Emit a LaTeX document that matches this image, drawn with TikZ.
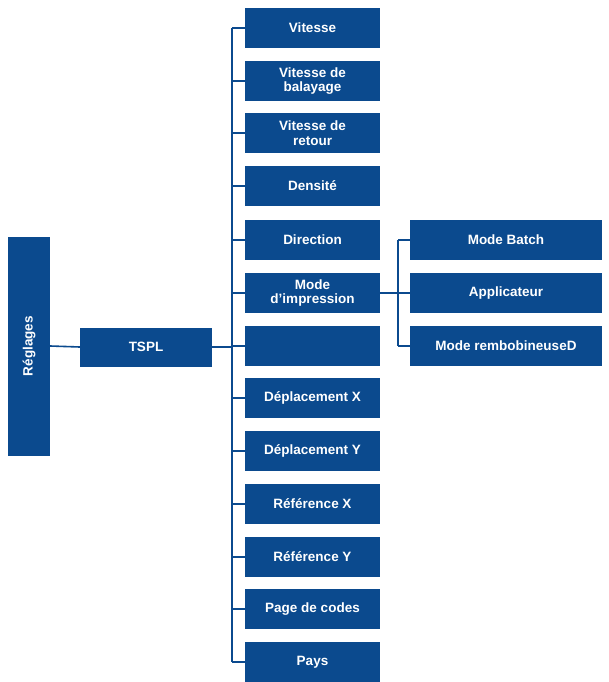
\documentclass[tikz,border=0pt]{standalone}
\usepackage{fontspec}
\setmainfont{Liberation Sans}
\definecolor{bl}{HTML}{0B4A8E}
\begin{document}
\begin{tikzpicture}[x=1pt,y=-1pt,
  bx/.style={fill=bl,draw=none,text=white,font=\bfseries\fontsize{13.5}{14.5}\selectfont,align=center,inner sep=0pt},
  ln/.style={draw=bl,line width=1.6pt}]
\useasboundingbox (0,0) rectangle (609,682);
\node[bx,minimum width=219,minimum height=42,rotate=90] (r) at (29,346) {Réglages};
\node[bx,minimum width=132,minimum height=39] (t) at (146,347) {TSPL};
\coordinate (tt) at (232,347);
\draw[ln] (r.south) -- (t.west);
\draw[ln] (t.east) -- (tt);
\foreach \n/\y/\txt in {a/28/Vitesse,b/81/Vitesse de\\balayage,c/133/Vitesse de\\retour,d/186/Densité,e/240/Direction,f/293/Mode\\d'impression,g/346/,h/398/Déplacement X,i/451/Déplacement Y,j/504/Référence X,k/557/Référence Y,l/609/Page de codes,m/662/Pays}{
  \node[bx,minimum width=135,minimum height=40] (\n) at (312.5,\y) {\txt};
  \draw[ln] (232,\y) -- (\n.west);
}
\draw[ln] (232,28) -- (232,662);
\foreach \n/\y/\txt in {p/240/Mode Batch,q/293/Applicateur,s/346/Mode rembobineuseD}{
  \node[bx,minimum width=192,minimum height=40] (\n) at (506,\y) {\txt};
  \draw[ln] (398,\y) -- (\n.west);
}
\draw[ln] (398,240) -- (398,346);
\draw[ln] (f.east) -- (398,293);
\end{tikzpicture}
\end{document}
